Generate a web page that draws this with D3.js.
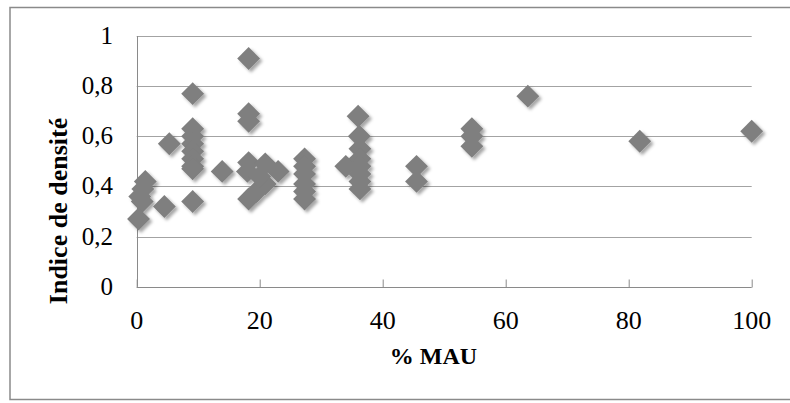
<!DOCTYPE html>
<html>
<head>
<meta charset="utf-8">
<script src="https://cdn.jsdelivr.net/npm/d3@7"></script>
<style>
  html, body { margin: 0; padding: 0; background: #fff; }
  svg { display: block; }
</style>
</head>
<body>
<svg id="chart" width="790" height="403"></svg>
<script>
// ---- data ----
const mau = [
  1.4, 1.0, 0.5, 0.9, 0.3, 4.5,
  5.3,
  9.1, 9.1, 9.1, 9.1, 9.1, 9.1, 9.1, 9.1, 9.1,
  13.9,
  18.2, 18.2, 18.2, 18.2, 18.0, 18.2,
  20.9, 23.0, 20.9, 19.5, 20.0,
  27.3, 27.3, 27.3, 27.3, 27.3, 27.3,
  36.0, 36.2, 36.3, 36.3, 36.3, 36.3, 36.3, 36.3, 34.0,
  45.5, 45.5,
  54.5, 54.5, 54.5,
  63.6,
  81.8,
  100
];
const densite = [
  0.42, 0.39, 0.36, 0.34, 0.27, 0.32,
  0.57,
  0.63, 0.60, 0.57, 0.54, 0.51, 0.48, 0.47, 0.77, 0.34,
  0.46,
  0.91, 0.69, 0.66, 0.495, 0.46, 0.35,
  0.49, 0.46, 0.41, 0.38, 0.44,
  0.51, 0.48, 0.45, 0.41, 0.38, 0.35,
  0.68, 0.60, 0.55, 0.51, 0.48, 0.45, 0.42, 0.39, 0.48,
  0.48, 0.42,
  0.63, 0.60, 0.56,
  0.76,
  0.58,
  0.62
];
const xTicks = [0, 20, 40, 60, 80, 100];
const yTicks = [0, 0.2, 0.4, 0.6, 0.8, 1];
const xTitle = "% MAU";
const yTitle = "Indice de densité";

// ---- layout ----
const svg = d3.select("#chart");
const pL = 136.7, pR = 751.7, pT = 36, pB = 286.7;
const x = d3.scaleLinear().domain([0, 100]).range([pL, pR]);
const y = d3.scaleLinear().domain([0, 1]).range([pB, pT]);
const fmt = v => String(v).replace(".", ",");

const defs = svg.append("defs");
const f = defs.append("filter").attr("id", "shadow")
  .attr("x", "-50%").attr("y", "-50%").attr("width", "200%").attr("height", "200%");
f.append("feDropShadow").attr("dx", 2.5).attr("dy", 2.5).attr("stdDeviation", 1.6)
  .attr("flood-color", "#000").attr("flood-opacity", 0.35);

// chart frame
svg.append("rect").attr("x", 10).attr("y", 7.5).attr("width", 790).attr("height", 392)
  .attr("fill", "#fff").attr("stroke", "#8a8a8a").attr("stroke-width", 1.5);

// gridlines
svg.append("g").selectAll("line").data(yTicks.filter(d => d > 0)).join("line")
  .attr("x1", pL).attr("x2", pR)
  .attr("y1", d => Math.round(y(d)) + 0.5).attr("y2", d => Math.round(y(d)) + 0.5)
  .attr("stroke", "#a3a3a3").attr("stroke-width", 1);

// x axis (inside ticks)
const xAxis = svg.append("g").attr("transform", `translate(0,${Math.round(pB) + 0.5})`)
  .call(d3.axisBottom(x).tickValues(xTicks).tickSize(-8).tickFormat(""));
xAxis.select(".domain").attr("stroke", "#8a8a8a").attr("d", `M${pL},0H${pR}`);
xAxis.selectAll(".tick line").attr("stroke", "#8a8a8a");

// y axis line
const yAxis = svg.append("g").attr("transform", `translate(${Math.round(pL) + 0.5},0)`)
  .call(d3.axisLeft(y).tickValues(yTicks).tickSize(0).tickFormat(""));
yAxis.select(".domain").attr("stroke", "#8a8a8a").attr("d", `M0,${pT}V${pB}`);

// tick labels
svg.append("g").selectAll("text").data(xTicks).join("text")
  .attr("x", d => x(d)).attr("y", 328.5)
  .attr("text-anchor", "middle")
  .attr("font-family", "'Liberation Serif', serif").attr("font-size", 26)
  .attr("fill", "#000").text(d => d);

svg.append("g").selectAll("text").data(yTicks).join("text")
  .attr("x", 113).attr("y", d => y(d) + 8)
  .attr("text-anchor", "end")
  .attr("font-family", "'Liberation Serif', serif").attr("font-size", 25)
  .attr("fill", "#000").text(d => fmt(d));

// axis titles
svg.append("text").attr("x", 433.5).attr("y", 363.5).attr("text-anchor", "middle")
  .attr("font-family", "'Liberation Serif', serif").attr("font-weight", "bold")
  .attr("font-size", 24).attr("fill", "#000").text(xTitle);

svg.append("text").attr("transform", "translate(66.5,211) rotate(-90)")
  .attr("text-anchor", "middle")
  .attr("font-family", "'Liberation Serif', serif").attr("font-weight", "bold")
  .attr("font-size", 26).attr("fill", "#000").text(yTitle);

// markers
const points = mau.map((v, i) => ({ x: v, y: densite[i] }));
const diamond = d3.symbol().type(d3.symbolSquare).size(262);
svg.append("g").attr("filter", "url(#shadow)")
  .selectAll("path").data(points).join("path")
  .attr("d", diamond)
  .attr("transform", d => `translate(${x(d.x)},${y(d.y)}) rotate(45)`)
  .attr("fill", "#7f7f7f");
</script>
</body>
</html>
